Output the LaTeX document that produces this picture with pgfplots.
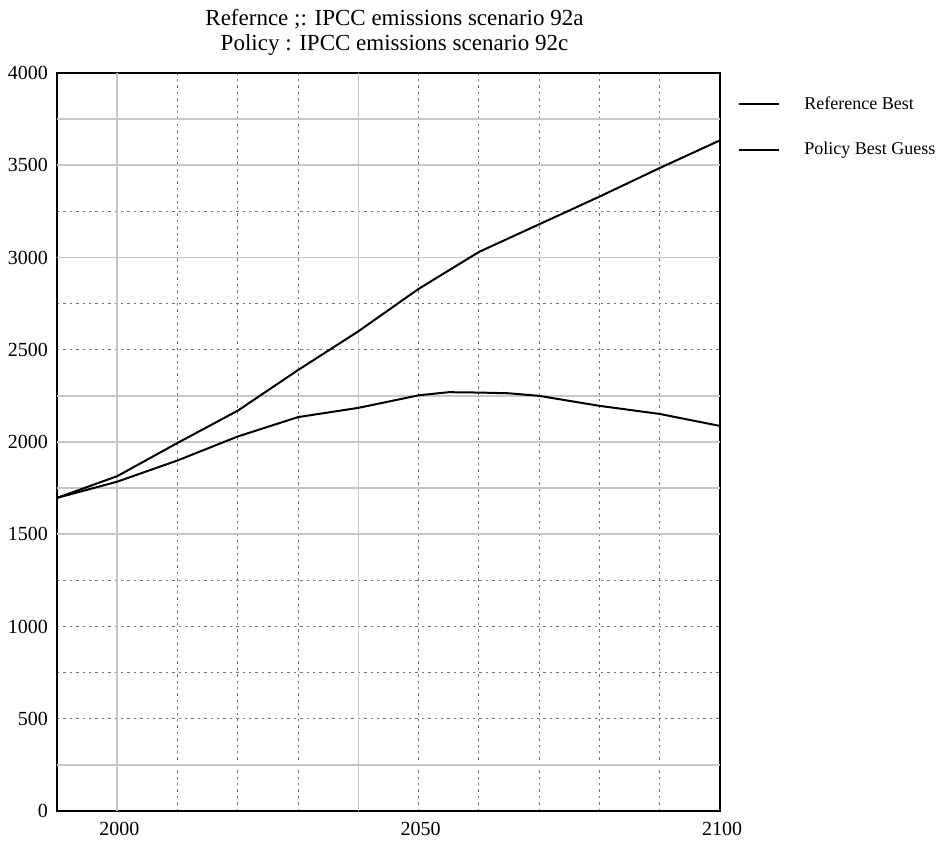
\documentclass[border=0pt]{standalone}
\usepackage{pgfplots}
\pgfplotsset{compat=1.18}
\usepackage{fontspec}
\setmainfont{Liberation Serif}

% Emissions, best-guess paths
\pgfplotstableread{
year  val
1990  1697
2000  1815
2010  1995
2020  2170
2030  2390
2040  2600
2050  2830
2060  3030
2070  3180
2080  3330
2090  3485
2100  3635
}\referencedata
\pgfplotstableread{
year  val
1990  1697
2000  1785
2010  1900
2020  2030
2030  2135
2040  2185
2050  2253
2055  2270
2060  2268
2065  2264
2070  2250
2080  2196
2090  2152
2100  2087
}\policydata

\begin{document}
\begin{tikzpicture}
\begin{axis}[
  scale only axis,
  width=331.5pt, height=369pt,
  xmin=1990, xmax=2100,
  ymin=0, ymax=4000,
  axis line style={black, line width=1pt},
  major tick length=0pt,
  /pgf/number format/assume math mode=true,
  tick label style={font=\fontsize{10}{12}\selectfont},
  xticklabel style={xshift=1pt, yshift=-2pt},
  yticklabel style={xshift=-1pt},
  grid=major,
  major grid style={draw=black!55, line width=0.5pt, dash pattern=on 1.2pt off 2pt},
  % dashed grid lines
  xtick={2010,2020,2030,2050,2060,2070,2080,2090,2100},
  xticklabels={,,,2050,,,,,2100},
  ytick={0,500,750,1000,1250,2500,2750,3250,4000},
  yticklabels={0,500,,1000,,2500,,,4000},
  % solid grid lines
  extra x ticks={2000,2040},
  extra x tick labels={2000,},
  extra x tick style={major grid style={draw=black!22, line width=0.8pt, solid}},
  extra y ticks={250,1500,1750,2000,2250,3000,3500,3750},
  extra y tick labels={,1500,,2000,,3000,3500,},
  extra y tick style={major grid style={draw=black!22, line width=0.8pt, solid}},
  title style={font=\fontsize{11.5}{12.5}\selectfont, align=center, at={(0.5,1)}, anchor=south, yshift=-1pt, xshift=3pt},
  title={Refernce ;: IPCC emissions scenario 92a\\Policy : IPCC emissions scenario 92c},
  legend style={at={(axis description cs:1,1)}, anchor=north west, xshift=9pt, yshift=-9.5pt,
    draw=none, fill=none, inner sep=0pt, row sep=11pt,
    font=\fontsize{9}{11}\selectfont,
    nodes={inner xsep=0pt, anchor=west}},
  legend cell align=left,
  legend image code/.code={%
    \draw[black, line width=0.9pt] (0pt,0pt) -- (20pt,0pt);
    \path (32pt,0pt);},
]
\addplot[black, line width=1pt] table[x=year, y=val] {\referencedata};
\addlegendentry{Reference Best}
\addplot[black, line width=1pt] table[x=year, y=val] {\policydata};
\addlegendentry{Policy Best Guess}
\end{axis}
\pgfresetboundingbox
\path (-28.5pt,-14.5pt) rectangle (447.5pt,405.5pt);
\end{tikzpicture}
\end{document}
